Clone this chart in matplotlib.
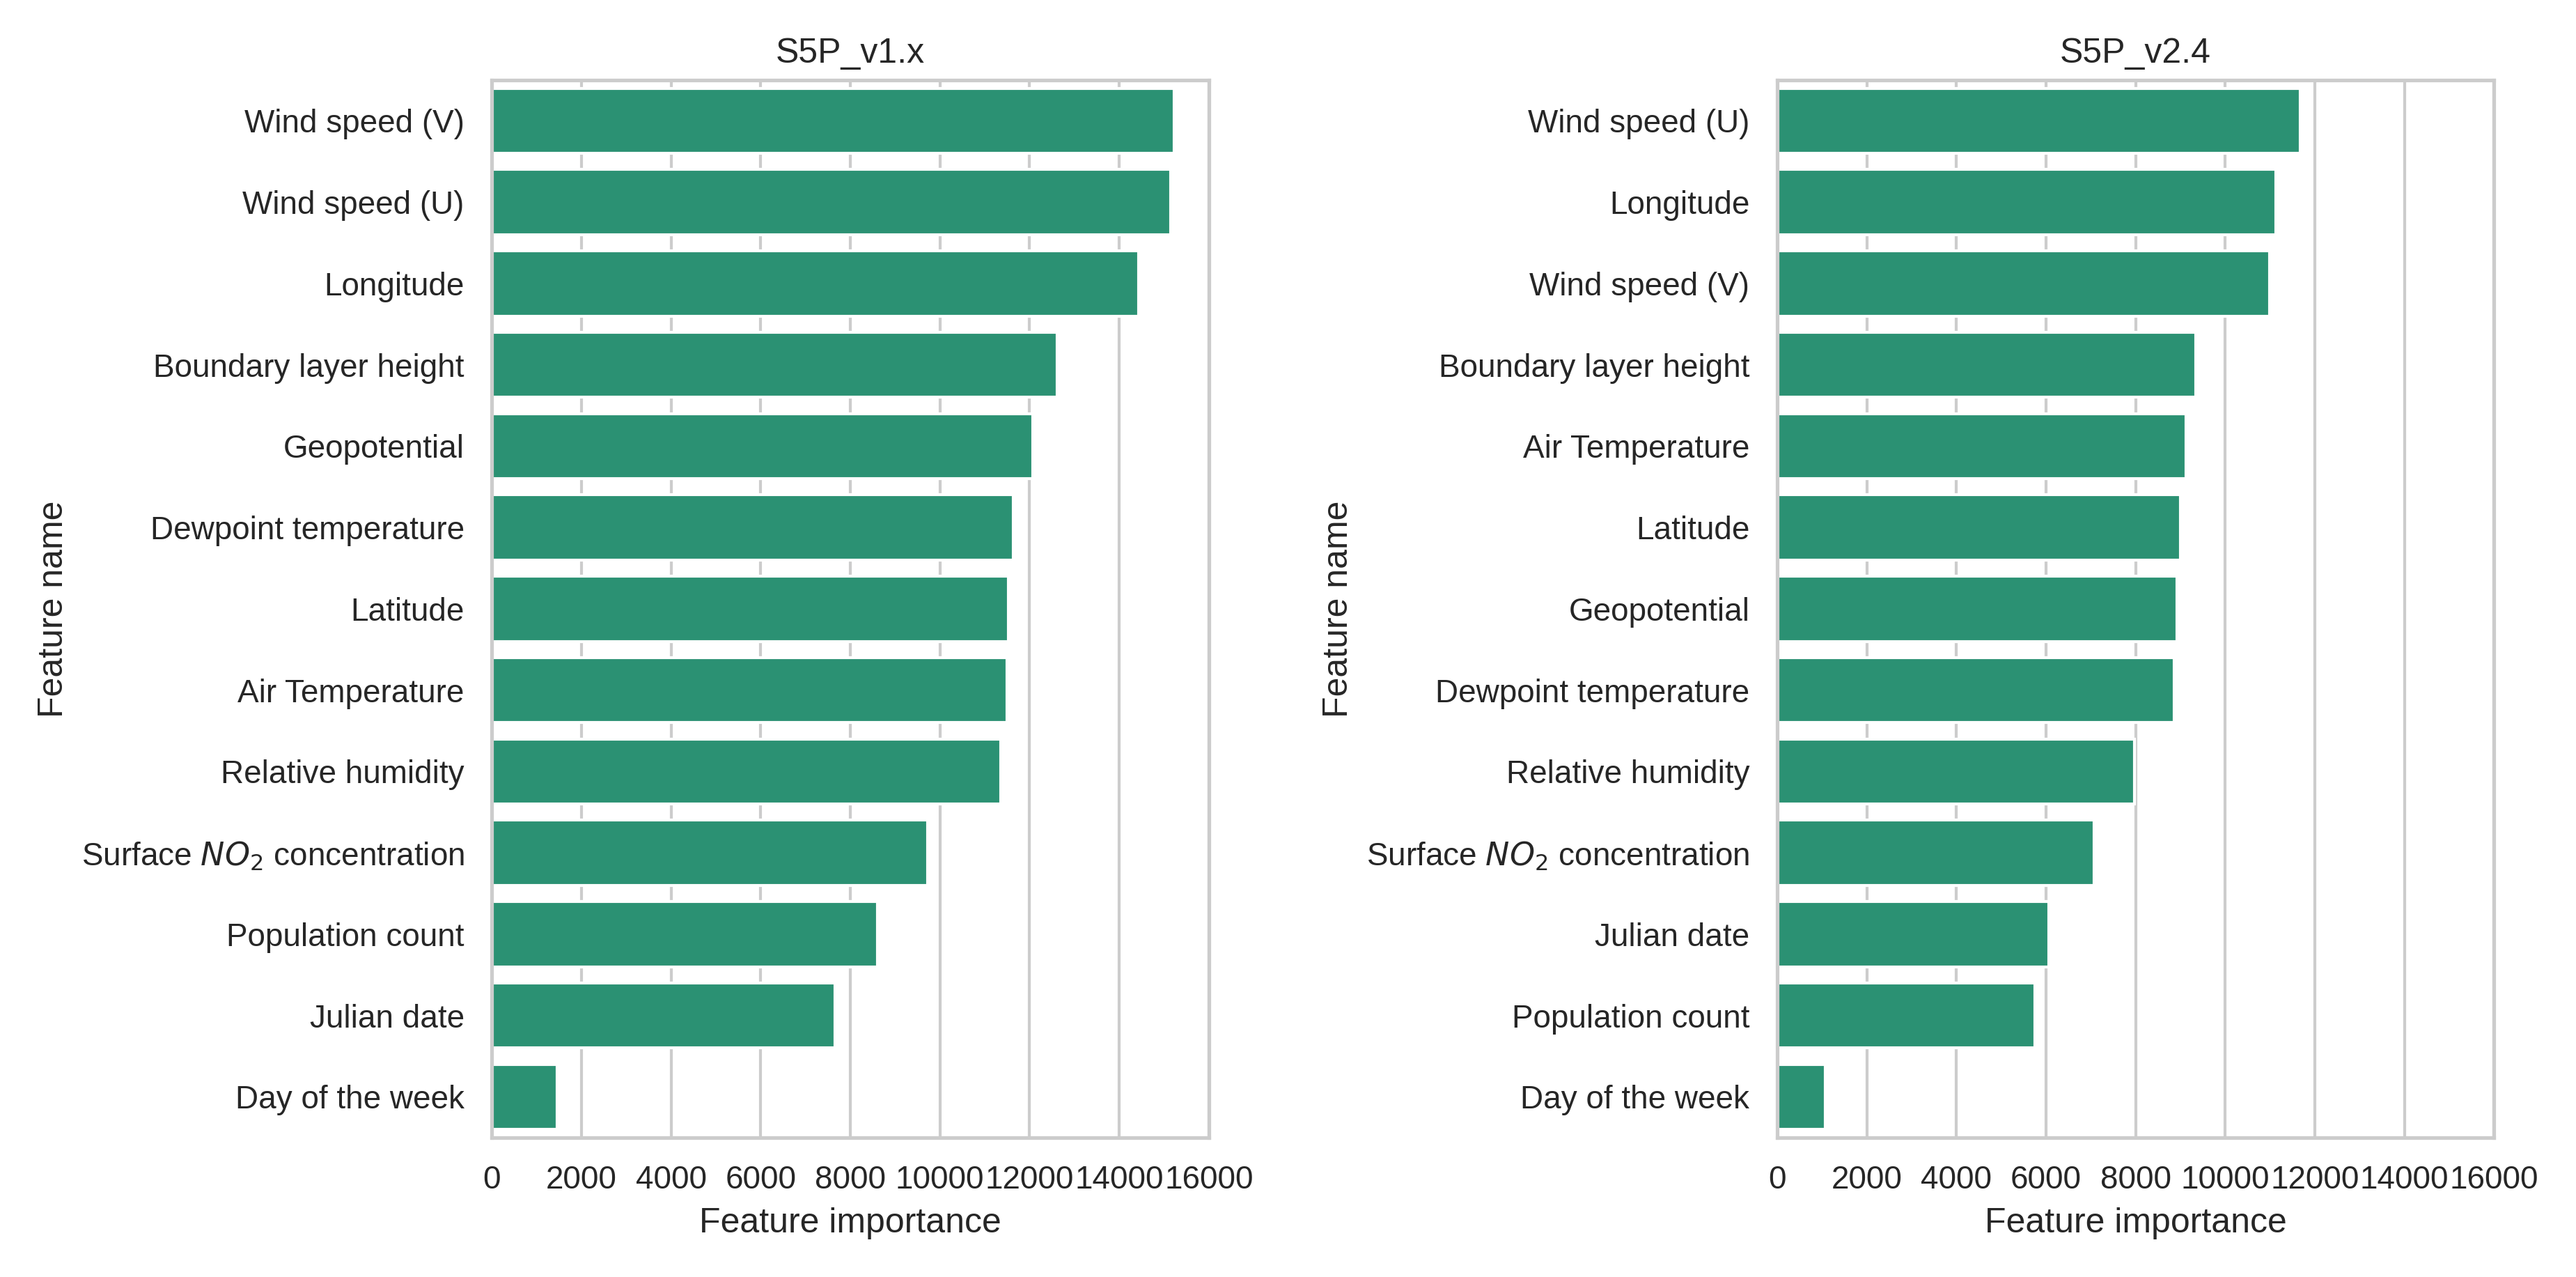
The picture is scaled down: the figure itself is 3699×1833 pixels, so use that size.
import matplotlib
matplotlib.use("Agg")
import matplotlib.pyplot as plt
import seaborn as sns

sns.set_theme(style="whitegrid")
plt.rcParams['font.family'] = ['Arial', 'Liberation Sans', 'DejaVu Sans']

BAR_COLOR = "#2b9173"

# S5P_v1.x
v1_features = ["Wind speed (V)", "Wind speed (U)", "Longitude", "Boundary layer height",
               "Geopotential", "Dewpoint temperature", "Latitude", "Air Temperature",
               "Relative humidity", "Surface $NO_2$ concentration", "Population count",
               "Julian date", "Day of the week"]
v1_importance = [15220, 15150, 14440, 12610, 12070, 11630, 11530, 11490, 11360,
                 9730, 8610, 7660, 1460]

# S5P_v2.4
v2_features = ["Wind speed (U)", "Longitude", "Wind speed (V)", "Boundary layer height",
               "Air Temperature", "Latitude", "Geopotential", "Dewpoint temperature",
               "Relative humidity", "Surface $NO_2$ concentration", "Julian date",
               "Population count", "Day of the week"]
v2_importance = [11670, 11130, 10990, 9340, 9130, 9000, 8930, 8860, 7980,
                 7070, 6060, 5750, 1080]

fig, axes = plt.subplots(1, 2, figsize=(12.33, 6.11), dpi=300)

for ax, feats, vals, title in [(axes[0], v1_features, v1_importance, "S5P_v1.x"),
                               (axes[1], v2_features, v2_importance, "S5P_v2.4")]:
    ax.barh(range(len(feats)), vals, height=0.8, color=BAR_COLOR)
    ax.set_yticks(range(len(feats)))
    ax.set_yticklabels(feats, fontsize=11)
    ax.set_ylim(len(feats) - 0.5, -0.5)
    ax.set_xlim(0, 16000)
    ax.set_xticks(range(0, 16001, 2000))
    ax.tick_params(axis="x", labelsize=11)
    ax.grid(axis="y", visible=False)
    ax.set_xlabel("Feature importance", fontsize=12)
    ax.set_ylabel("Feature name", fontsize=12)
    ax.set_title(title, fontsize=12)

plt.tight_layout(w_pad=2)
plt.savefig("out.png", dpi=300)
